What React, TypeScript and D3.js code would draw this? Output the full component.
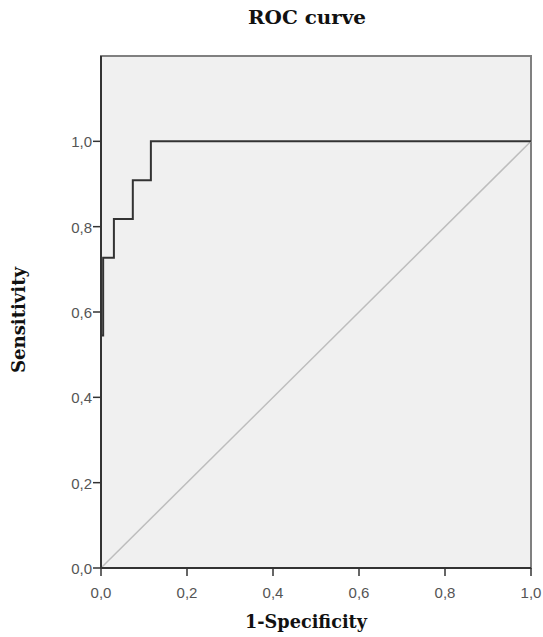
import React from "react";
import * as d3 from "d3";

const FPR = [0, 0, 0.005, 0.005, 0.03, 0.03, 0.074, 0.074, 0.116, 0.116, 1];
const TPR = [0, 0.545, 0.545, 0.727, 0.727, 0.818, 0.818, 0.909, 0.909, 1, 1];
const X_TICKS = [0, 0.2, 0.4, 0.6, 0.8, 1.0];
const Y_TICKS = [0, 0.2, 0.4, 0.6, 0.8, 1.0];

const W = 543;
const H = 637;
const PLOT = { left: 101, right: 531, top: 56, bottom: 568 };

const fmt = (v: number) => v.toFixed(1).replace(".", ",");

export default function App() {
  const x = d3.scaleLinear().domain([0, 1]).range([PLOT.left, PLOT.right]);
  const y = d3.scaleLinear().domain([0, 1.2]).range([PLOT.bottom, PLOT.top]);

  const pts = FPR.map((f, i) => [f, TPR[i]] as [number, number]);
  const line = d3
    .line<[number, number]>()
    .x((d) => x(d[0]))
    .y((d) => y(d[1]));

  const serif = "'DejaVu Serif', 'Liberation Serif', serif";
  const sans = "'Liberation Sans', Arial, sans-serif";

  return (
    <svg
      width={W}
      height={H}
      style={{ position: "absolute", left: 0, top: 0, background: "#fff" }}
    >
      {/* title */}
      <text
        x={307}
        y={24}
        textAnchor="middle"
        fontFamily={serif}
        fontWeight="bold"
        fontSize={18}
        textLength={118}
        lengthAdjust="spacingAndGlyphs"
        fill="#111"
      >
        ROC curve
      </text>

      {/* plot frame */}
      <rect
        x={PLOT.left}
        y={PLOT.top}
        width={PLOT.right - PLOT.left}
        height={PLOT.bottom - PLOT.top}
        fill="#f0f0f0"
        stroke="#808080"
        strokeWidth={2}
      />

      {/* diagonal reference */}
      <line
        x1={x(0)}
        y1={y(0)}
        x2={x(1)}
        y2={y(1)}
        stroke="#bdbdbd"
        strokeWidth={1.5}
      />

      {/* ROC curve */}
      <path d={line(pts) || ""} fill="none" stroke="#333" strokeWidth={2} />

      {/* axes */}
      <line x1={PLOT.left} y1={PLOT.bottom} x2={PLOT.right} y2={PLOT.bottom} stroke="#333" strokeWidth={2} />
      <line x1={PLOT.left} y1={PLOT.bottom} x2={PLOT.left} y2={PLOT.top} stroke="#333" strokeWidth={2} />

      {X_TICKS.map((t) => (
        <g key={"x" + t}>
          <line x1={x(t)} x2={x(t)} y1={PLOT.bottom} y2={PLOT.bottom + 8} stroke="#333" strokeWidth={1.5} />
          <text
            x={x(t)}
            y={PLOT.bottom + 30}
            textAnchor="middle"
            fontFamily={sans}
            fontSize={15}
            fill="#555"
          >
            {fmt(t)}
          </text>
        </g>
      ))}

      {Y_TICKS.map((t) => (
        <g key={"y" + t}>
          <line x1={PLOT.left - 8} x2={PLOT.left} y1={y(t)} y2={y(t)} stroke="#333" strokeWidth={1.5} />
          <text
            x={PLOT.left - 9}
            y={y(t) + 6}
            textAnchor="end"
            fontFamily={sans}
            fontSize={15}
            fill="#555"
          >
            {fmt(t)}
          </text>
        </g>
      ))}

      {/* axis titles */}
      <text
        x={306}
        y={628}
        textAnchor="middle"
        fontFamily={serif}
        fontWeight="bold"
        fontSize={18}
        textLength={122}
        lengthAdjust="spacingAndGlyphs"
        fill="#111"
      >
        1-Specificity
      </text>
      <text
        transform={`translate(25,${320}) rotate(-90)`}
        textAnchor="middle"
        fontFamily={serif}
        fontWeight="bold"
        fontSize={18}
        textLength={106}
        lengthAdjust="spacingAndGlyphs"
        fill="#111"
      >
        Sensitivity
      </text>
    </svg>
  );
}
